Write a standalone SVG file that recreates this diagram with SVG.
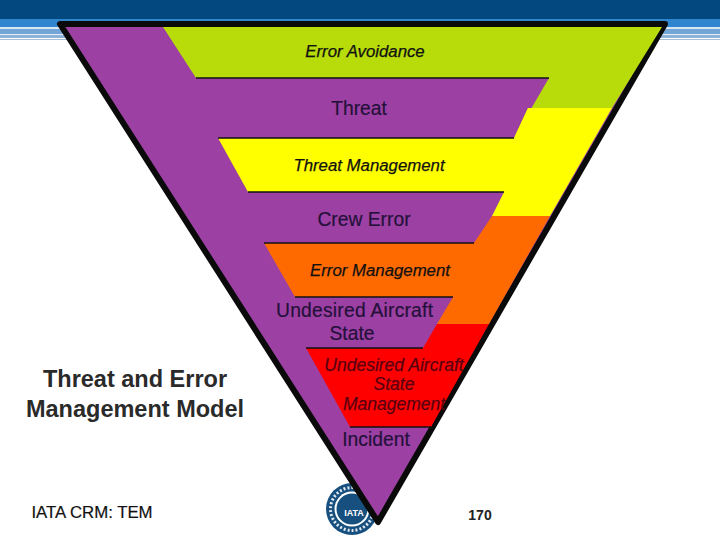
<svg xmlns="http://www.w3.org/2000/svg" width="720" height="540" viewBox="0 0 720 540">
<style>
text{font-family:"Liberation Sans",Arial,sans-serif;fill:#1a0a2a;text-anchor:middle}
.i{font-style:italic;font-size:16.8px;fill:#111;stroke:#111;stroke-width:.25}
.u{font-style:italic;font-size:17.5px;fill:#5a0010;stroke:#5a0010;stroke-width:.25}
.r{font-size:19.3px;fill:#24103a;stroke:#24103a;stroke-width:.2}
.m{font-size:23.5px;font-weight:bold;fill:#2a2a2a}
.line{stroke:#111;stroke-width:1.5;fill:none}
</style>
<g id="header">
<rect width="720" height="19" fill="#03487f"/>
<rect y="19" width="720" height="8" fill="#2f86cf"/>
<rect y="27" width="720" height="2" fill="#d8e6f4"/>
<rect y="29" width="720" height="5" fill="#73a6d6"/>
<rect y="34" width="720" height="1" fill="#e4edf6"/>
<rect y="35" width="720" height="3" fill="#8db3d8"/>
<rect y="38" width="720" height="1" fill="#fff"/>
<rect y="39" width="720" height="1" fill="#a9bdd4"/>
</g>
<g id="logo">
<circle cx="352" cy="509" r="26" fill="#17507f"/>
<circle cx="352" cy="509" r="21.5" fill="none" stroke="#dfe8f0" stroke-width="3" stroke-dasharray="2 2"/>
<circle cx="352" cy="509" r="17.5" fill="#fff"/>
<circle cx="352" cy="509" r="15.5" fill="#17507f"/>
<text x="354" y="516" font-size="9" font-weight="bold" style="fill:#fff">IATA</text>
</g>
<g id="pyramid">
<polygon points="60,24 665,24 378,522" fill="#9c41a3" stroke="#0a0a0a" stroke-width="6" stroke-linejoin="round"/>
</g>
<g id="error-avoidance">
<polygon points="163,27 662,27 612,108 528,108 514,138 549,78 196,78" fill="#b8dc0a"/>
</g>
<g id="threat-management">
<polygon points="218,138 514,138 528,108 612,108 550,216 492,216 504,192 248,192" fill="#ffff00"/>
</g>
<g id="error-management">
<polygon points="264,243 474,243 492,216 550,216 489,324 437,324 453,297 295,297" fill="#ff6a00"/>
</g>
<g id="uas-management">
<polygon points="306,348 423,348 437,324 489,324 431,427 350,427" fill="#ff0000"/>
</g>
<g id="connectors">
<path class="line" d="M196,78H549"/>
<path class="line" d="M218,138H514"/>
<path class="line" d="M248,192H504"/>
<path class="line" d="M264,243H474"/>
<path class="line" d="M295,297H453"/>
<path class="line" d="M306,348H423"/>
<path class="line" d="M350,427H431"/>
</g>
<g id="labels">
<text class="i" x="365" y="57">Error Avoidance</text>
<text class="r" x="359" y="115">Threat</text>
<text class="i" x="369" y="171">Threat Management</text>
<text class="r" x="364" y="226">Crew Error</text>
<text class="i" x="380" y="276">Error Management</text>
<text class="r" x="354.500" y="317" textLength="157">Undesired Aircraft</text>
<text class="r" x="352" y="340">State</text>
<text class="u" x="394" y="371">Undesired Aircraft</text>
<text class="u" x="394" y="390">State</text>
<text class="u" x="394" y="410">Management</text>
<text class="r" x="376" y="446">Incident</text>
<text class="m" x="135" y="387">Threat and Error</text>
<text class="m" x="135" y="417">Management Model</text>
<text x="92" y="518" font-size="16.8" style="fill:#111;stroke:#111;stroke-width:.2">IATA CRM: TEM</text>
<text x="480" y="520" font-size="14" font-weight="bold" style="fill:#222">170</text>
</g>
</svg>
